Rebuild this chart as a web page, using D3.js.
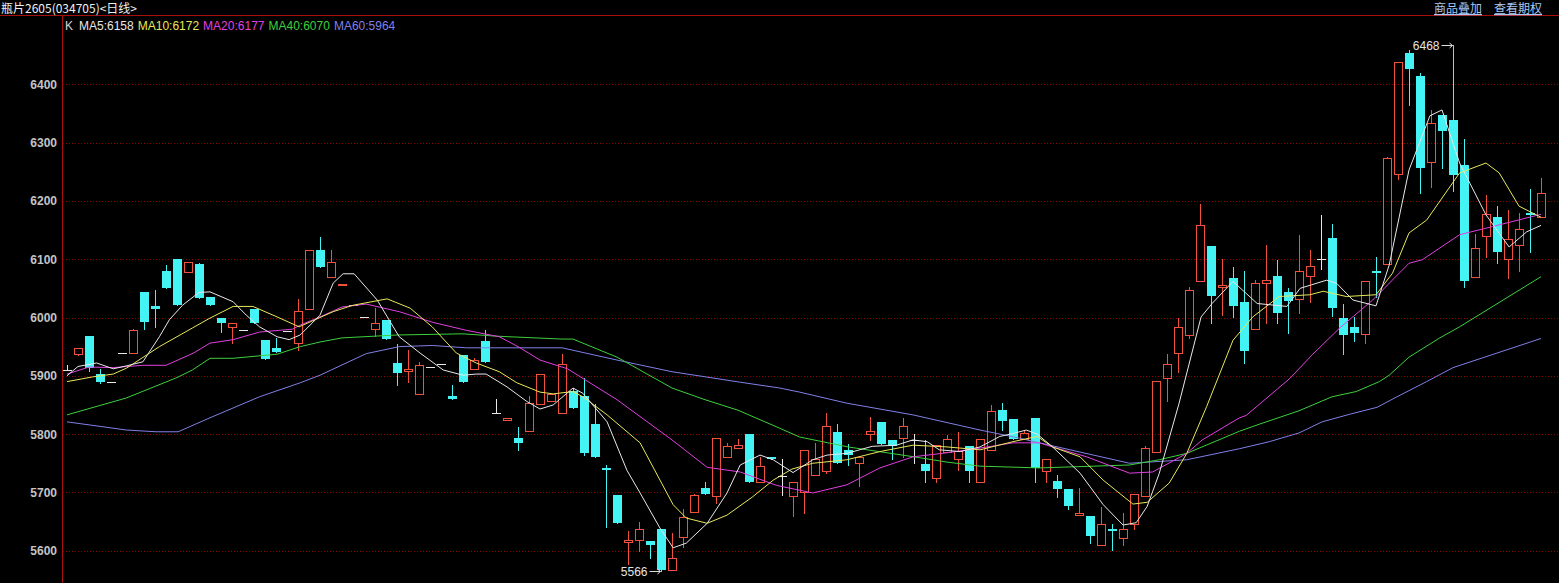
<!DOCTYPE html>
<html>
<head>
<meta charset="utf-8">
<script src="https://d3js.org/d3.v7.min.js"></script>
<style>
    body { margin: 0; background: #000; overflow: hidden; }
    svg { display: block; }
</style>
</head>
<body>
<div id="chart"></div>
<script>
// Daily candles (index 0 = leftmost candle)
var opens = [5910, 5937, 5969, 5903, 5889, 5939, 5939, 6044, 6020, 6080,
    6100, 6078, 6091, 6035, 5999, 5984, 5979, 6015, 5962, 5948,
    5976, 5957, 6014, 6116, 6069, 6055, 6021, 6001, 5980, 5995,
    5922, 5909, 5868, 5915, 5920, 5865, 5936, 5911, 5960, 5837,
    5825, 5793, 5806, 5852, 5857, 5836, 5874, 5865, 5817, 5742,
    5696, 5615, 5619, 5617, 5638, 5567, 5624, 5667, 5707, 5693,
    5760, 5777, 5800, 5718, 5761, 5728, 5694, 5700, 5730, 5736,
    5803, 5773, 5751, 5800, 5821, 5790, 5794, 5790, 5749, 5724,
    5770, 5758, 5780, 5718, 5772, 5842, 5826, 5792, 5827, 5737,
    5720, 5706, 5662, 5660, 5609, 5637, 5622, 5645, 5693, 5770,
    5897, 5939, 5970, 6062, 6123, 6052, 6067, 6026, 5981, 6059,
    6071, 6043, 6031, 6071, 6101, 6136, 5999, 5983, 5972, 6080,
    6092, 6246, 6454, 6414, 6267, 6347, 6339, 6261, 6069, 6139,
    6172, 6100, 6124, 6179, 6172];
var highs = [5918, 5948, 5969, 5911, 5889, 5939, 5980, 6044, 6047, 6090,
    6100, 6095, 6094, 6035, 5999, 5990, 5979, 6015, 5962, 5964,
    5976, 6032, 6115, 6138, 6116, 6057, 6021, 6001, 6017, 5995,
    5955, 5944, 5923, 5915, 5920, 5884, 5936, 5931, 5979, 5860,
    5827, 5812, 5865, 5903, 5869, 5937, 5879, 5897, 5852, 5747,
    5696, 5633, 5649, 5617, 5638, 5631, 5672, 5698, 5717, 5793,
    5785, 5791, 5800, 5760, 5761, 5758, 5718, 5773, 5784, 5836,
    5817, 5783, 5760, 5829, 5821, 5790, 5827, 5801, 5790, 5781,
    5798, 5804, 5780, 5791, 5850, 5853, 5826, 5807, 5827, 5758,
    5729, 5706, 5708, 5660, 5675, 5645, 5664, 5697, 5779, 5891,
    5938, 5999, 6053, 6195, 6123, 6100, 6087, 6080, 6064, 6124,
    6099, 6050, 6141, 6115, 6176, 6160, 6023, 6001, 6062, 6104,
    6276, 6438, 6459, 6420, 6356, 6347, 6468, 6307, 6143, 6210,
    6191, 6184, 6180, 6220, 6239];
var lows = [5910, 5936, 5908, 5888, 5889, 5939, 5939, 5980, 5984, 6050,
    6022, 6078, 6034, 6022, 5975, 5957, 5979, 5991, 5929, 5941,
    5976, 5944, 6014, 6086, 6069, 6055, 6021, 6001, 5968, 5963,
    5884, 5890, 5868, 5915, 5920, 5860, 5889, 5911, 5924, 5837,
    5825, 5772, 5806, 5852, 5857, 5836, 5844, 5764, 5760, 5640,
    5648, 5578, 5600, 5588, 5566, 5567, 5607, 5667, 5697, 5681,
    5760, 5777, 5718, 5718, 5757, 5696, 5660, 5665, 5730, 5733,
    5751, 5747, 5711, 5790, 5783, 5758, 5761, 5750, 5718, 5717,
    5770, 5738, 5718, 5718, 5772, 5807, 5791, 5792, 5718, 5718,
    5692, 5671, 5662, 5614, 5609, 5602, 5610, 5638, 5693, 5770,
    5856, 5907, 5965, 6062, 5990, 6005, 6001, 5922, 5981, 5990,
    5991, 5974, 6007, 6027, 6083, 6003, 5937, 5959, 5956, 6036,
    6092, 6237, 6364, 6214, 6223, 6257, 6217, 6052, 6069, 6104,
    6093, 6067, 6080, 6113, 6172];
var closes = [5910, 5947, 5913, 5889, 5889, 5939, 5979, 5993, 6015, 6050,
    6022, 6095, 6034, 6022, 5991, 5990, 5979, 5991, 5929, 5941,
    5976, 6011, 6115, 6086, 6095, 6057, 6021, 6001, 5991, 5963,
    5905, 5911, 5919, 5915, 5920, 5860, 5889, 5927, 5924, 5837,
    5827, 5784, 5854, 5903, 5869, 5920, 5844, 5767, 5760, 5740,
    5648, 5619, 5638, 5609, 5567, 5587, 5657, 5696, 5697, 5793,
    5780, 5781, 5718, 5745, 5757, 5728, 5718, 5773, 5757, 5814,
    5751, 5764, 5760, 5806, 5783, 5780, 5814, 5790, 5736, 5781,
    5791, 5771, 5736, 5791, 5840, 5822, 5791, 5802, 5742, 5758,
    5705, 5676, 5665, 5626, 5645, 5634, 5637, 5697, 5776, 5891,
    5920, 5983, 6047, 6159, 6037, 6056, 6020, 5943, 6059, 6064,
    6008, 6029, 6080, 6088, 6101, 6016, 5970, 5974, 6062, 6076,
    6273, 6438, 6426, 6256, 6333, 6320, 6244, 6063, 6119, 6177,
    6113, 6134, 6151, 6176, 6213];

// Moving averages as [candle index, value]
var ma5Points = [[0, 5900], [1, 5916], [2.7, 5922], [4.2, 5912], [5.4, 5917], [6.9, 5924], [8.4, 5967],
    [9.3, 5996], [10.5, 6021], [12, 6043], [13, 6044], [15.1, 6027], [16.3, 6004], [17.5, 5984],
    [19.1, 5967], [20.2, 5962], [21.2, 5970], [23, 6004], [24.2, 6059], [25.1, 6075], [26.1, 6075],
    [28.2, 6030], [30.2, 5967], [32.1, 5939], [34.2, 5910], [36, 5901], [37.2, 5903], [38.1, 5903],
    [40, 5881], [41.8, 5856], [43, 5843], [44.2, 5850], [46, 5879], [46.9, 5870], [49.1, 5821],
    [50.9, 5738], [52.1, 5699], [53.9, 5639], [55.1, 5605], [56.3, 5613], [58.2, 5647], [60, 5699],
    [61.2, 5747], [63, 5764], [64.2, 5756], [66, 5734], [67.8, 5756], [69.1, 5764], [70.9, 5767],
    [73.2, 5779], [75.4, 5781], [76.9, 5790], [78.2, 5787], [79.3, 5773], [81.2, 5770], [83, 5778],
    [84.8, 5796], [86, 5801], [87.2, 5807], [88.2, 5800], [89.6, 5778], [92.1, 5733], [94.2, 5679],
    [96, 5644], [97.2, 5648], [98.2, 5676], [99.3, 5733], [101.1, 5853], [103.1, 6001], [104.1, 6024],
    [106, 6062], [108.2, 6024], [110.9, 6019], [112.1, 6050], [114.5, 6064], [115.4, 6059],
    [116.9, 6030], [119, 6020], [120.2, 6090], [122, 6253], [123.9, 6346], [125, 6356], [126.6, 6265],
    [129, 6176], [131.1, 6121], [132.7, 6147], [134, 6158]];
var ma10Points = [[0, 5890], [2.3, 5898], [4.2, 5903], [5.4, 5913], [8.4, 5950], [11.4, 5982], [13, 5999],
    [15.1, 6019], [16.9, 6019], [19.1, 6001], [21.1, 5984], [24.2, 6010], [26, 6021], [29.1, 6032],
    [31.2, 6016], [33.2, 5984], [35.4, 5939], [37.2, 5922], [39.3, 5907], [40.9, 5888], [43, 5872],
    [44.2, 5869], [46, 5873], [46.9, 5864], [49.1, 5833], [52.1, 5785], [55.1, 5679], [56.3, 5656],
    [58.2, 5647], [60, 5661], [62.3, 5692], [64.2, 5721], [65.9, 5740], [67.8, 5750], [70.9, 5756],
    [73.9, 5770], [76.9, 5781], [80, 5778], [83, 5773], [86, 5787], [88.2, 5796], [89.6, 5778],
    [92.1, 5761], [94.2, 5721], [96.9, 5680], [98.2, 5683], [100.2, 5716], [101.8, 5767],
    [103.6, 5847], [106, 5961], [107.8, 6001], [110.2, 6036], [113, 6039], [114.2, 6045],
    [116.3, 6036], [119, 6039], [120.5, 6076], [122, 6145], [123.6, 6167], [126.6, 6248], [129, 6265],
    [130.2, 6248], [132, 6191], [134, 6172]];
var ma20Points = [[0, 5903], [2, 5915], [4.2, 5914], [6.9, 5918], [9, 5918], [11.5, 5939], [13, 5956],
    [15.1, 5962], [17.5, 5975], [20.5, 5980], [21.2, 5987], [23, 6001], [25, 6018], [27.2, 6023],
    [30.2, 6010], [33.2, 5992], [36.3, 5978], [39.3, 5967], [41, 5950], [43, 5927], [45.5, 5912],
    [50, 5859], [55, 5790], [58.2, 5743], [61.2, 5735], [64.5, 5712], [67.8, 5699], [70.9, 5713],
    [73.9, 5742], [76.9, 5761], [80, 5768], [83, 5776], [86, 5785], [88.4, 5785], [89.6, 5778],
    [92.7, 5761], [96.6, 5733], [98.7, 5735], [101.8, 5767], [103.2, 5790], [106.6, 5828],
    [107.2, 5832], [111.2, 5896], [113.2, 5936], [115.7, 5982], [118.7, 6030], [122, 6093],
    [123.2, 6099], [126.6, 6142], [129.6, 6156], [134, 6177]];
var ma40Points = [[0, 5833], [5.4, 5862], [10, 5897], [11.4, 5910], [13, 5930], [15.1, 5930], [19.1, 5937],
    [21.2, 5950], [23, 5958], [25, 5965], [30, 5970], [36, 5972], [39, 5968], [45, 5963], [46, 5963],
    [50, 5932], [55, 5879], [58, 5859], [61, 5841], [64.8, 5810], [66.6, 5795], [71, 5778], [77, 5761],
    [80, 5752], [83, 5745], [88.4, 5742], [96.6, 5747], [99.3, 5756], [101.8, 5767], [106.6, 5805],
    [108.4, 5817], [112, 5840], [115, 5864], [117.2, 5873], [119.3, 5890], [120.2, 5901], [122, 5932],
    [124.8, 5965], [126.6, 5984], [134, 6070]];
var ma60Points = [[0, 5821], [5.4, 5807], [8.1, 5804], [10.1, 5804], [13, 5828], [17.5, 5864],
    [21.2, 5888], [23, 5901], [27.2, 5938], [30.2, 5950], [33.2, 5952], [36.3, 5948], [45, 5948],
    [50, 5927], [55, 5907], [61.2, 5889], [64.8, 5879], [66.6, 5872], [70.9, 5853], [76.9, 5833],
    [83, 5807], [86.6, 5793], [88.4, 5785], [96.6, 5750], [101.8, 5756], [106.6, 5775], [109.3, 5787],
    [112, 5802], [114.1, 5821], [116.6, 5834], [119.1, 5846], [120.9, 5864], [123.6, 5890],
    [126, 5914], [134, 5964]];

// Axis ticks and header texts
var yTicks = [5600, 5700, 5800, 5900, 6000, 6100, 6200, 6300, 6400];
var titleText = "瓶片2605(034705)<日线>";
var linkTexts = ["商品叠加", "查看期权"];
var maLegend = [
    {name: "MA5", value: 6158, color: "#e8e8e8", points: ma5Points},
    {name: "MA10", value: 6172, color: "#e8e85a", points: ma10Points},
    {name: "MA20", value: 6177, color: "#e040e0", points: ma20Points},
    {name: "MA40", value: 6070, color: "#3cd03c", points: ma40Points},
    {name: "MA60", value: 5964, color: "#8080e8", points: ma60Points}
];
var highMark = {index: 126, value: 6468};
var lowMark = {index: 54, value: 5566};

// Define SVG area dimensions
var svgWidth = 1559;
var svgHeight = 583;

var upColor = "#f0503c";
var downColor = "#44f4f4";
var flatColor = "#e8e8e8";
var gridColor = "#8c0000";
var frameColor = "#a81010";

var svg = d3.select("#chart")
    .append("svg")
    .attr("width", svgWidth)
    .attr("height", svgHeight)
    .style("background", "#000");

// Scales: candle index -> pixel column, price -> pixel row
var xScale = d3.scaleLinear()
    .domain([0, opens.length - 1])
    .range([67, 67 + 11 * (opens.length - 1)]);

var yScale = d3.scaleLinear()
    .domain([5600, 6400])
    .range([550.7, 84.3]);

function px(i) { return Math.round(xScale(i)); }
function py(v) { return Math.round(yScale(v)); }

// Dotted horizontal grid
svg.append("g")
    .selectAll("line")
    .data(yTicks)
    .enter().append("line")
    .attr("x1", 63)
    .attr("x2", svgWidth)
    .attr("y1", d => py(d) + 0.5)
    .attr("y2", d => py(d) + 0.5)
    .attr("stroke", gridColor)
    .attr("stroke-dasharray", "1,2");

// Left price axis
var leftAxis = d3.axisLeft(yScale)
    .tickValues(yTicks)
    .tickSize(0)
    .tickPadding(0)
    .tickFormat(d3.format("d"));

var yAxis = svg.append("g")
    .attr("transform", "translate(57,0)")
    .call(leftAxis);

yAxis.select(".domain").remove();
yAxis.selectAll("text")
    .attr("fill", "#c4c4c4")
    .attr("dy", "0.34em")
    .style("font-family", "'Liberation Sans', Arial, sans-serif")
    .style("font-size", "12px")
    .style("font-weight", "bold");

// Frame lines
svg.append("line")
    .attr("x1", 0).attr("x2", svgWidth)
    .attr("y1", 15.5).attr("y2", 15.5)
    .attr("stroke", frameColor);

svg.append("line")
    .attr("x1", 62.5).attr("x2", 62.5)
    .attr("y1", 16).attr("y2", svgHeight)
    .attr("stroke", frameColor);

// Candles
var candles = d3.range(opens.length).map(function(i) {
    return {i: i, open: opens[i], high: highs[i], low: lows[i], close: closes[i]};
});

var candleGroup = svg.append("g")
    .attr("shape-rendering", "crispEdges");

candles.forEach(function(d) {
    var cx = px(d.i);
    var yo = py(d.open), yc = py(d.close), yh = py(d.high), yl = py(d.low);
    var g = candleGroup.append("g");

    if (d.close > d.open) {
        // hollow red box, wicks outside the body
        if (yh < yc) {
            g.append("line").attr("x1", cx + 0.5).attr("x2", cx + 0.5)
                .attr("y1", yh).attr("y2", yc).attr("stroke", upColor);
        }
        if (yl > yo) {
            g.append("line").attr("x1", cx + 0.5).attr("x2", cx + 0.5)
                .attr("y1", yo).attr("y2", yl + 1).attr("stroke", upColor);
        }
        g.append("rect")
            .attr("x", cx - 3.5)
            .attr("y", yc + 0.5)
            .attr("width", 8)
            .attr("height", Math.max(yo - yc, 1))
            .attr("fill", "none")
            .attr("stroke", upColor);
    } else if (d.close < d.open) {
        // filled cyan box
        g.append("line").attr("x1", cx + 0.5).attr("x2", cx + 0.5)
            .attr("y1", yh).attr("y2", yl + 1).attr("stroke", downColor);
        g.append("rect")
            .attr("x", cx - 4)
            .attr("y", yo)
            .attr("width", 9)
            .attr("height", Math.max(yc - yo, 2))
            .attr("fill", downColor);
    } else {
        // doji: white cross
        if (yl > yh) {
            g.append("line").attr("x1", cx + 0.5).attr("x2", cx + 0.5)
                .attr("y1", yh).attr("y2", yl + 1).attr("stroke", flatColor);
        }
        g.append("line")
            .attr("x1", cx - 4).attr("x2", cx + 5)
            .attr("y1", yo + 0.5).attr("y2", yo + 0.5)
            .attr("stroke", flatColor);
    }
});

// Moving average lines
var maLine = d3.line()
    .x(d => xScale(d[0]))
    .y(d => yScale(d[1]));

svg.append("g")
    .selectAll("path")
    .data(maLegend.slice().reverse())
    .enter().append("path")
    .attr("d", d => maLine(d.points))
    .attr("fill", "none")
    .attr("stroke", d => d.color)
    .attr("stroke-width", 1);

// High / low markers
var markFont = "'Liberation Sans', Arial, sans-serif";

function addMark(mark) {
    var cx = px(mark.index) + 0.5;
    var y = py(mark.value) + 0.5;
    var g = svg.append("g").attr("stroke", "#dcdcdc").attr("fill", "none");
    g.append("line").attr("x1", cx - 12).attr("x2", cx - 1).attr("y1", y).attr("y2", y);
    g.append("path").attr("d", `M${cx - 4},${y - 2.5}L${cx - 1},${y}L${cx - 4},${y + 2.5}`);
    svg.append("text")
        .attr("x", cx - 14)
        .attr("y", y + 4.5)
        .attr("text-anchor", "end")
        .attr("fill", "#e4e4e4")
        .style("font-family", markFont)
        .style("font-size", "12px")
        .text(mark.value);
}

addMark(highMark);
addMark(lowMark);

// Title
svg.append("text")
    .attr("x", 1)
    .attr("y", 13)
    .attr("fill", "#f0f0f0")
    .style("font-family", "'Noto Sans CJK SC', sans-serif")
    .style("font-size", "12px")
    .text(titleText);

// Links at the top right
var linkX = [1434, 1494];
linkTexts.forEach(function(t, k) {
    svg.append("text")
        .attr("x", linkX[k])
        .attr("y", 13)
        .attr("fill", "#a8c8f0")
        .attr("text-decoration", "underline")
        .style("font-family", "'Noto Sans CJK SC', sans-serif")
        .style("font-size", "12px")
        .text(t);
});

// Indicator legend row
var legend = svg.append("text")
    .attr("x", 65)
    .attr("y", 30)
    .style("font-family", markFont)
    .style("font-size", "12px");

legend.append("tspan")
    .attr("fill", "#d8d8d8")
    .text("K");

maLegend.forEach(function(m) {
    legend.append("tspan")
        .attr("dx", m.name === "MA5" ? 6 : 4)
        .attr("fill", m.color)
        .text(m.name + ":" + m.value);
});
</script>
</body>
</html>
